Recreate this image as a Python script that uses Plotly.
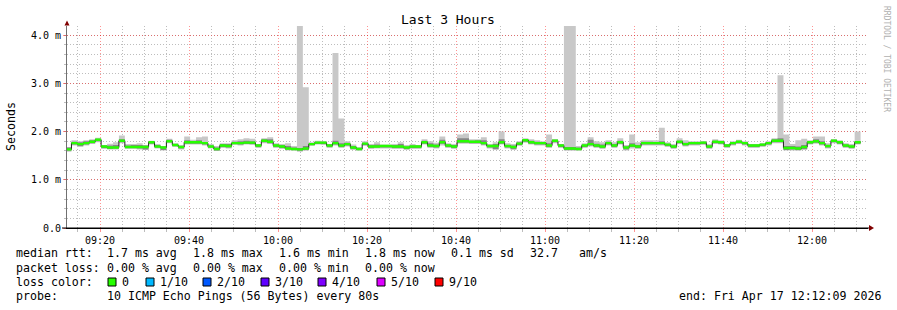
import plotly.graph_objects as go
import pandas as pd

# ---------------- data (ms) ----------------
STEP_START = "2026-04-17 09:12:15"
STEP_SECONDS = 80

median = [
    1.63, 1.76, 1.74, 1.76, 1.79, 1.83, 1.69, 1.67, 1.67, 1.81,
    1.68, 1.68, 1.68, 1.68, 1.78, 1.69, 1.67, 1.80, 1.72, 1.68,
    1.78, 1.78, 1.78, 1.76, 1.69, 1.64, 1.71, 1.70, 1.76, 1.76,
    1.77, 1.77, 1.71, 1.81, 1.79, 1.71, 1.69, 1.65, 1.64, 1.63,
    1.65, 1.74, 1.77, 1.77, 1.71, 1.76, 1.71, 1.74, 1.67, 1.64,
    1.75, 1.69, 1.69, 1.70, 1.70, 1.69, 1.69, 1.67, 1.69, 1.69,
    1.78, 1.71, 1.70, 1.78, 1.71, 1.69, 1.80, 1.80, 1.79, 1.79,
    1.76, 1.70, 1.70, 1.78, 1.70, 1.68, 1.75, 1.82, 1.78, 1.76,
    1.76, 1.71, 1.81, 1.71, 1.65, 1.65, 1.64, 1.71, 1.74, 1.71,
    1.69, 1.76, 1.71, 1.78, 1.67, 1.71, 1.69, 1.76, 1.76, 1.76,
    1.76, 1.73, 1.69, 1.79, 1.74, 1.76, 1.76, 1.77, 1.69, 1.79,
    1.78, 1.71, 1.76, 1.79, 1.76, 1.71, 1.71, 1.73, 1.76, 1.81,
    1.81, 1.66, 1.66, 1.65, 1.68, 1.78, 1.80, 1.76, 1.70, 1.81,
    1.78, 1.71, 1.69, 1.78,
]

ping_max = [
    1.68, 1.82, 1.80, 1.82, 1.84, 1.87, 1.72, 1.75, 1.78, 1.92,
    1.74, 1.74, 1.76, 1.72, 1.81, 1.74, 1.70, 1.85, 1.76, 1.72,
    1.90, 1.83, 1.88, 1.90, 1.74, 1.70, 1.76, 1.76, 1.82, 1.84,
    1.86, 1.85, 1.74, 1.86, 1.88, 1.76, 1.74, 1.76, 1.70, 4.30,
    2.92, 1.78, 1.81, 1.80, 1.74, 3.63, 2.27, 1.80, 1.73, 1.68,
    1.80, 1.74, 1.78, 1.73, 1.73, 1.74, 1.78, 1.72, 1.74, 1.72,
    1.84, 1.80, 1.77, 1.90, 1.76, 1.74, 1.94, 1.96, 1.84, 1.84,
    1.88, 1.74, 1.78, 2.00, 1.76, 1.74, 1.80, 1.86, 1.84, 1.82,
    1.80, 1.94, 1.84, 1.74, 4.30, 4.30, 1.70, 1.76, 1.88, 1.80,
    1.78, 1.82, 1.78, 1.86, 1.72, 1.94, 1.78, 1.82, 1.82, 1.82,
    2.08, 1.78, 1.74, 1.86, 1.82, 1.80, 1.80, 1.80, 1.74, 1.84,
    1.82, 1.74, 1.80, 1.83, 1.80, 1.74, 1.74, 1.76, 1.80, 1.86,
    3.17, 1.94, 1.74, 1.82, 1.85, 1.82, 1.90, 1.90, 1.76, 1.84,
    1.82, 1.76, 1.74, 2.00,
]

ping_min = [
    1.58, 1.71, 1.68, 1.71, 1.74, 1.78, 1.64, 1.63, 1.63, 1.76,
    1.64, 1.64, 1.63, 1.62, 1.73, 1.65, 1.61, 1.76, 1.68, 1.63,
    1.73, 1.73, 1.73, 1.71, 1.65, 1.60, 1.66, 1.65, 1.72, 1.71,
    1.73, 1.72, 1.66, 1.76, 1.74, 1.66, 1.64, 1.61, 1.60, 1.58,
    1.60, 1.70, 1.73, 1.72, 1.66, 1.71, 1.66, 1.69, 1.62, 1.60,
    1.70, 1.64, 1.65, 1.65, 1.65, 1.64, 1.64, 1.62, 1.64, 1.64,
    1.73, 1.66, 1.65, 1.71, 1.66, 1.64, 1.75, 1.75, 1.74, 1.74,
    1.71, 1.65, 1.62, 1.73, 1.65, 1.62, 1.70, 1.77, 1.73, 1.71,
    1.71, 1.66, 1.76, 1.66, 1.60, 1.60, 1.60, 1.66, 1.69, 1.66,
    1.64, 1.71, 1.66, 1.73, 1.61, 1.65, 1.64, 1.71, 1.71, 1.71,
    1.71, 1.68, 1.64, 1.74, 1.69, 1.71, 1.71, 1.72, 1.64, 1.74,
    1.73, 1.66, 1.71, 1.74, 1.71, 1.66, 1.66, 1.68, 1.71, 1.76,
    1.76, 1.61, 1.61, 1.60, 1.62, 1.73, 1.75, 1.71, 1.65, 1.76,
    1.73, 1.66, 1.64, 1.73,
]

inner_lo = [
    1.60, 1.73, 1.70, 1.73, 1.76, 1.80, 1.66, 1.64, 1.65, 1.78,
    1.66, 1.66, 1.65, 1.63, 1.75, 1.67, 1.62, 1.78, 1.70, 1.65,
    1.75, 1.75, 1.75, 1.73, 1.67, 1.61, 1.68, 1.67, 1.74, 1.73,
    1.75, 1.74, 1.68, 1.78, 1.76, 1.68, 1.66, 1.63, 1.62, 1.60,
    1.62, 1.72, 1.75, 1.74, 1.68, 1.73, 1.68, 1.71, 1.64, 1.62,
    1.72, 1.66, 1.67, 1.67, 1.67, 1.66, 1.66, 1.64, 1.66, 1.66,
    1.75, 1.68, 1.67, 1.75, 1.68, 1.66, 1.77, 1.77, 1.76, 1.76,
    1.73, 1.67, 1.64, 1.75, 1.67, 1.64, 1.72, 1.79, 1.75, 1.73,
    1.73, 1.68, 1.78, 1.68, 1.62, 1.62, 1.62, 1.68, 1.71, 1.68,
    1.66, 1.73, 1.68, 1.75, 1.63, 1.68, 1.66, 1.73, 1.73, 1.73,
    1.73, 1.70, 1.66, 1.76, 1.71, 1.73, 1.73, 1.74, 1.66, 1.76,
    1.75, 1.68, 1.73, 1.76, 1.73, 1.68, 1.68, 1.70, 1.73, 1.78,
    1.78, 1.62, 1.63, 1.62, 1.64, 1.75, 1.77, 1.73, 1.67, 1.78,
    1.75, 1.68, 1.66, 1.75,
]

inner_hi = [
    1.67, 1.79, 1.78, 1.80, 1.82, 1.85, 1.71, 1.71, 1.72, 1.84,
    1.71, 1.72, 1.72, 1.71, 1.80, 1.72, 1.69, 1.83, 1.74, 1.70,
    1.82, 1.80, 1.82, 1.78, 1.71, 1.67, 1.74, 1.74, 1.79, 1.80,
    1.81, 1.80, 1.73, 1.84, 1.84, 1.73, 1.72, 1.70, 1.67, 1.66,
    1.70, 1.76, 1.79, 1.79, 1.73, 1.81, 1.76, 1.77, 1.70, 1.66,
    1.77, 1.72, 1.73, 1.71, 1.72, 1.72, 1.74, 1.69, 1.71, 1.71,
    1.81, 1.76, 1.73, 1.83, 1.73, 1.72, 1.86, 1.86, 1.81, 1.82,
    1.82, 1.72, 1.74, 1.84, 1.72, 1.71, 1.78, 1.84, 1.81, 1.79,
    1.78, 1.76, 1.83, 1.73, 1.68, 1.68, 1.67, 1.73, 1.83, 1.75,
    1.73, 1.79, 1.74, 1.81, 1.69, 1.76, 1.72, 1.79, 1.79, 1.78,
    1.80, 1.75, 1.71, 1.81, 1.77, 1.78, 1.78, 1.79, 1.71, 1.81,
    1.80, 1.73, 1.78, 1.81, 1.78, 1.73, 1.73, 1.75, 1.78, 1.84,
    1.86, 1.70, 1.70, 1.69, 1.72, 1.80, 1.84, 1.80, 1.72, 1.83,
    1.80, 1.73, 1.71, 1.80,
]

y_tick_vals = [0, 1, 2, 3, 4]
y_tick_text = ["0.0", "1.0 m", "2.0 m", "3.0 m", "4.0 m"]

loss_labels = ["0", "1/10", "2/10", "3/10", "4/10", "5/10", "9/10"]
loss_colors = ["#26ff00", "#00b8ff", "#0059ff", "#5e00ff", "#7e00ff", "#dd00ff", "#ff0000"]

stats_line1 = ["median rtt:", "1.7 ms avg", "1.8 ms max", "1.6 ms min", "1.8 ms now", "0.1 ms sd", "32.7", "am/s"]
stats_line2 = ["packet loss:", "0.00 % avg", "0.00 % max", "0.00 % min", "0.00 % now"]
probe_text = ["probe:", "10 ICMP Echo Pings (56 Bytes) every 80s"]
end_text = "end: Fri Apr 17 12:12:09 2026"

# ---------------- geometry / style ----------------
W, H = 897, 310
L, R, T, B = 67, 29, 26, 82
PW, PH = W - L - R, H - T - B
FONT = "DejaVu Sans Mono"
BAND = 0.025


def px_x(px):
    return (px - L) / PW


def px_y(py):
    return (H - B - py) / PH


n = len(median)
times = pd.date_range(STEP_START, periods=n + 1, freq=f"{STEP_SECONDS}s")


def ext(v):
    return list(v) + [v[-1]]


def band(lo, hi, color):
    common = dict(x=times, mode="lines", line=dict(width=0, shape="hv"),
                  hoverinfo="skip", showlegend=False)
    return [go.Scatter(y=ext(lo), **common),
            go.Scatter(y=ext(hi), fill="tonexty", fillcolor=color, **common)]


fig = go.Figure()
for tr in band(ping_min, ping_max, "#c8c8c8"):
    fig.add_trace(tr)
for tr in band(inner_lo, inner_hi, "#868686"):
    fig.add_trace(tr)
fig.add_trace(go.Scatter(x=times, y=ext(median), mode="lines",
                         line=dict(width=1, color="#202020", shape="hv"),
                         hoverinfo="skip", showlegend=False))
for tr in band([m - BAND for m in median], [m + BAND for m in median], loss_colors[0]):
    fig.add_trace(tr)

MAJOR = "rgba(255,0,0,0.42)"
MINOR = "#bdbdbd"
DASH = "1px,2px"

fig.update_layout(
    width=W, height=H,
    margin=dict(l=L, r=R, t=T, b=B, pad=0),
    paper_bgcolor="white", plot_bgcolor="white",
    font=dict(family=FONT, color="black"),
    showlegend=False,
    xaxis=dict(
        type="date",
        range=["2026-04-17 09:12:35", "2026-04-17 12:12:35"],
        tick0="2026-04-17 09:20:00", dtick=20 * 60 * 1000,
        tickformat="%H:%M",
        tickfont=dict(size=10, family=FONT, color="black"),
        showgrid=True, gridcolor=MAJOR, griddash=DASH, gridwidth=1,
        ticks="outside", ticklen=3, tickcolor=MAJOR,
        minor=dict(dtick=5 * 60 * 1000, tick0="2026-04-17 09:20:00",
                   showgrid=True, gridcolor=MINOR, griddash=DASH,
                   ticks="outside", ticklen=3, tickcolor=MINOR),
        showline=True, linecolor="black", linewidth=1,
        zeroline=False, fixedrange=True,
    ),
    yaxis=dict(
        range=[0, 4.19],
        tickvals=y_tick_vals, ticktext=y_tick_text,
        tickfont=dict(size=10, family=FONT, color="black"),
        showgrid=True, gridcolor=MAJOR, griddash=DASH, gridwidth=1,
        ticks="outside", ticklen=3, tickcolor=MAJOR,
        minor=dict(dtick=0.2, tick0=0, showgrid=True, gridcolor=MINOR,
                   griddash=DASH, ticks="outside", ticklen=2, tickcolor=MINOR),
        showline=True, linecolor="#707070", linewidth=1,
        zeroline=False, fixedrange=True,
    ),
)

ann = []
# title
ann.append(dict(text="Last 3 Hours", x=px_x(448), y=px_y(20), xref="paper", yref="paper",
                xanchor="center", yanchor="middle", showarrow=False,
                font=dict(size=13, family=FONT, color="black")))
# y label
ann.append(dict(text="Seconds", x=px_x(11), y=px_y(127), xref="paper", yref="paper",
                xanchor="center", yanchor="middle", textangle=-90, showarrow=False,
                font=dict(size=11.6, family=FONT, color="black")))
# watermark
ann.append(dict(text="RRDTOOL / TOBI OETIKER", x=px_x(886), y=px_y(4), xref="paper", yref="paper",
                xanchor="center", yanchor="top", textangle=90, showarrow=False,
                font=dict(size=8, family=FONT, color="#b0b0b0")))

LEG_FONT = dict(size=11.6, family=FONT, color="black")


def txt(s, x, y, anchor="left"):
    ann.append(dict(text=s, x=px_x(x), y=px_y(y), xref="paper", yref="paper",
                    xanchor=anchor, yanchor="middle", showarrow=False,
                    borderpad=0, font=LEG_FONT))


line1_x = [15, 106, 192, 278, 364, 450, 529, 578]
for s, x in zip(stats_line1, line1_x):
    txt(s, x, 253)
line2_x = [15, 106, 192, 278, 364]
for s, x in zip(stats_line2, line2_x):
    txt(s, x, 268)
txt("loss color:", 15, 282)
sq_x = [108, 146, 203, 261, 318, 377, 435]
shapes = []
for lab, col, x in zip(loss_labels, loss_colors, sq_x):
    shapes.append(dict(type="rect", xref="paper", yref="paper",
                       x0=px_x(x), x1=px_x(x + 8), y0=px_y(286), y1=px_y(278),
                       fillcolor=col, line=dict(color="black", width=1)))
    txt(lab, x + 13, 282)
txt(probe_text[0], 15, 296)
txt(probe_text[1], 106, 296)
txt(end_text, 882, 296, anchor="right")

# axis arrows
ARROW = "#800000"
shapes.append(dict(type="path", xref="paper", yref="paper",
                   path=f"M {px_x(64.5)} {px_y(25.5)} L {px_x(69.5)} {px_y(25.5)} L {px_x(67)} {px_y(20.5)} Z",
                   fillcolor=ARROW, line=dict(color=ARROW, width=0)))
shapes.append(dict(type="line", xref="paper", yref="paper",
                   x0=px_x(62), x1=px_x(870), y0=0, y1=0,
                   line=dict(color="black", width=1)))
shapes.append(dict(type="path", xref="paper", yref="paper",
                   path=f"M {px_x(869)} {px_y(225)} L {px_x(869)} {px_y(231)} L {px_x(874)} {px_y(228)} Z",
                   fillcolor=ARROW, line=dict(color=ARROW, width=0)))

fig.update_layout(annotations=ann, shapes=shapes)

fig.write_html("out.html", config={"displayModeBar": False})
